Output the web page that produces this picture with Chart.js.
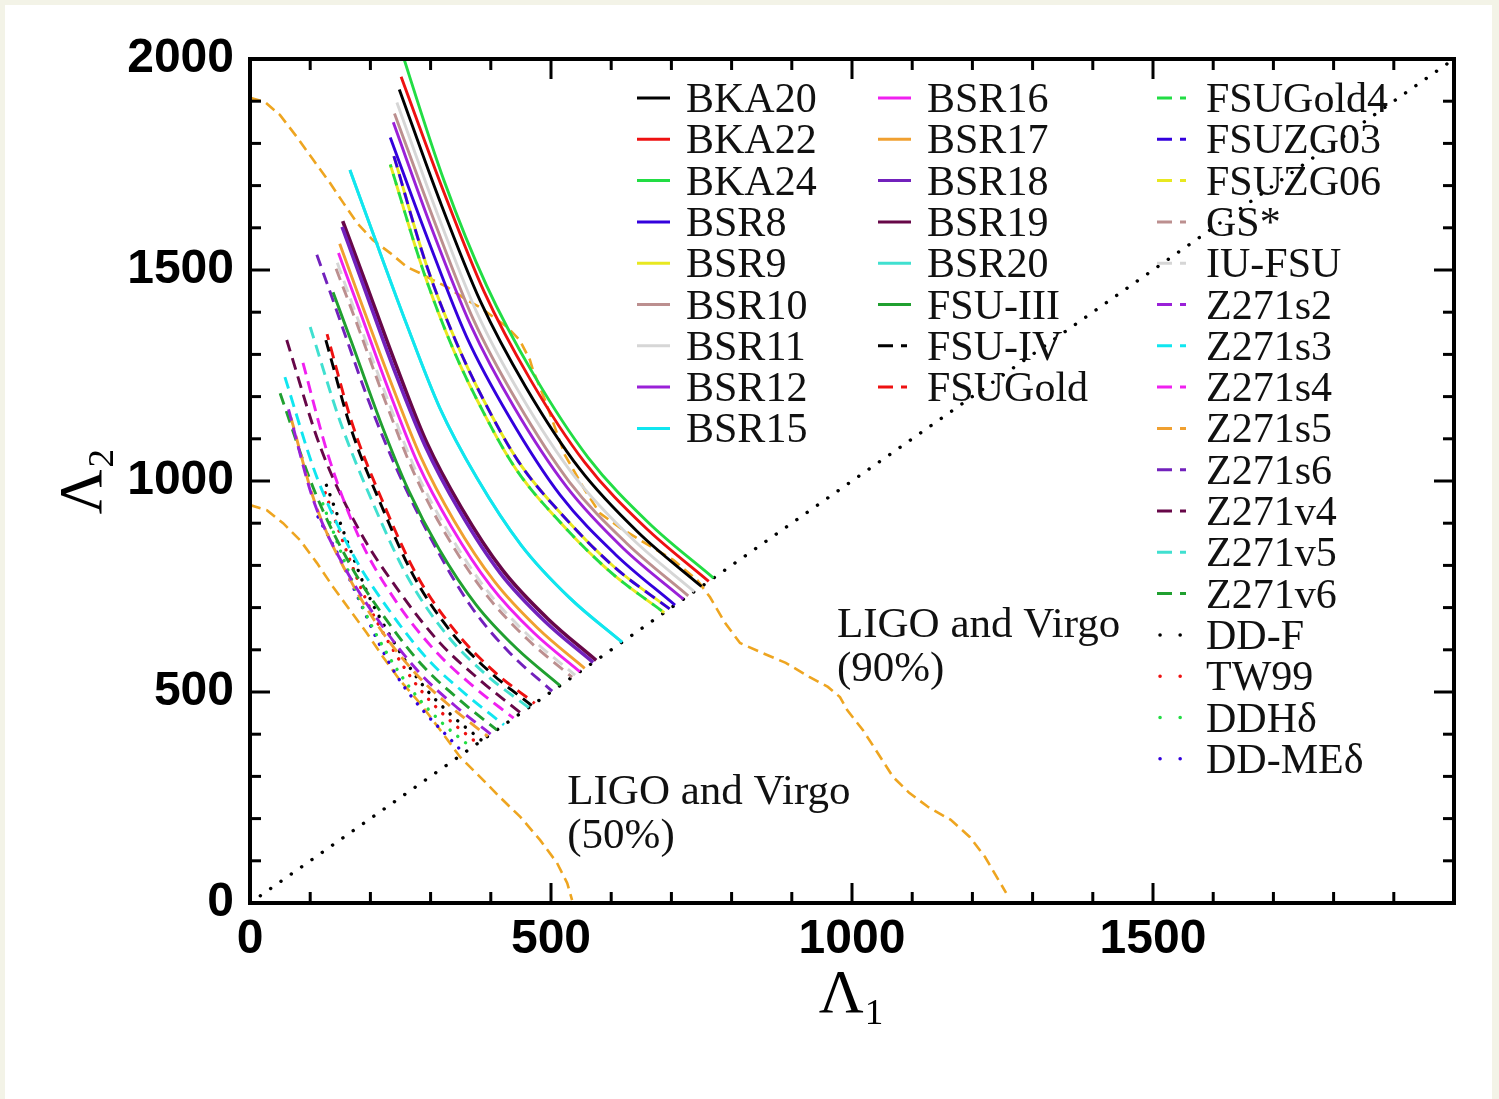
<!DOCTYPE html>
<html><head><meta charset="utf-8">
<script src="https://cdn.jsdelivr.net/npm/chart.js@4.4.1/dist/chart.umd.min.js"></script>
<style>
html,body{margin:0;padding:0;background:#f3f3e7;overflow:hidden;}
#wrap{position:absolute;left:0;top:0;width:1499px;height:1099px;}
#white{position:absolute;left:5px;top:5px;width:1487px;height:1094px;background:#fff;}
canvas{position:absolute;left:0;top:0;}
</style></head><body>
<div id="wrap"><div id="white"></div><canvas id="c" width="1499" height="1099"></canvas></div>
<script>
// ---- tick values / labels ----
const tickValues = [0,100,200,300,400,500,600,700,800,900,1000,1100,1200,1300,1400,1500,1600,1700,1800,1900,2000];
const xTickLabels = [0,500,1000,1500];
const yTickLabels = [0,500,1000,1500,2000];

// ---- series: [Lambda1, Lambda2] points ----
const BKA20 = [[248,1928],[315,1665],[383,1425],[458,1223],[548,1028],[645,878],[750,750]];
const BKA22 = [[251,1958],[320,1692],[389,1448],[465,1242],[556,1044],[655,892],[762,762]];
const BKA24 = [[240,2070],[323,1709],[393,1463],[470,1255],[562,1055],[662,901],[770,770]];
const BSR8  = [[233,1814],[297,1567],[360,1341],[431,1151],[515,967],[607,826],[706,706]];
const BSR9  = [[239,1770],[293,1512],[342,1331],[388,1192],[446,1046],[523,913],[606,795],[697,697]];
const BSR10 = [[240,1871],[306,1616],[371,1383],[444,1187],[531,997],[626,852],[728,728]];
const BSR11 = [[244,1897],[310,1638],[376,1402],[450,1203],[539,1011],[635,863],[738,738]];
const BSR12 = [[238,1850],[302,1598],[367,1368],[439,1174],[526,986],[619,842],[720,720]];
const BSR15 = [[166,1737],[204,1588],[260,1372],[315,1174],[377,1007],[451,847],[531,723],[618,618]];
const BSR16 = [[147,1540],[181,1408],[230,1217],[279,1041],[334,893],[400,751],[471,641],[548,548]];
const BSR17 = [[149,1562],[183,1429],[234,1234],[284,1056],[339,906],[406,762],[478,651],[556,556]];
const BSR18 = [[153,1602],[188,1465],[239,1265],[291,1083],[348,929],[416,781],[490,667],[570,570]];
const BSR19 = [[154,1616],[190,1478],[242,1277],[293,1093],[351,937],[420,788],[495,673],[575,575]];
const BSR20 = [[166,1737],[204,1588],[260,1372],[315,1174],[377,1007],[451,847],[531,723],[618,618]];
const FSU3  = [[138,1447],[170,1324],[216,1143],[263,979],[314,839],[376,706],[443,603],[515,515]];
const FSU4  = [[126,1334],[168,1123],[220,936],[271,777],[332,646],[398,548],[468,468]];
const FSUGold  = [[128,1348],[170,1135],[222,946],[274,785],[336,653],[402,553],[473,473]];
const FSUGold4 = [[233,1750],[289,1493],[337,1314],[383,1176],[440,1032],[516,901],[599,784],[688,688]];
const FSUZG03  = [[239,1770],[293,1512],[342,1331],[388,1192],[446,1046],[523,913],[606,795],[697,697]];
const FSUZG06  = [[233,1750],[289,1493],[337,1314],[383,1176],[440,1032],[516,901],[599,784],[688,688]];
const GSstar = [[143,1503],[177,1375],[225,1188],[273,1017],[326,872],[391,733],[460,626],[535,535]];
const IUFSU  = [[145,1517],[178,1388],[227,1199],[275,1026],[329,880],[394,740],[464,632],[540,540]];
const Z271s2 = [[64,1170],[104,960],[160,788],[220,656],[280,548],[340,468],[400,400]];
const Z271s3 = [[58,1246],[110,1013],[169,831],[232,692],[295,578],[359,494],[422,422]];
const Z271s4 = [[88,1280],[130,1060],[180,870],[240,720],[306,600],[372,512],[438,438]];
const Z271s5 = [[68,1150],[108,948],[162,778],[217,648],[277,541],[336,462],[395,395]];
const Z271s6 = [[111,1536],[135,1440],[162,1330],[197,1190],[240,1040],[300,865],[366,705],[432,592],[502,502]];
const Z271v4 = [[61,1334],[117,1080],[180,887],[248,738],[315,617],[383,527],[450,450]];
const Z271v5 = [[100,1365],[150,1140],[205,945],[262,772],[326,637],[393,540],[463,463]];
const Z271v6 = [[50,1208],[105,984],[164,808],[226,672],[287,562],[349,480],[410,410]];
const DDF    = [[127,990],[162,855],[196,732],[235,628],[281,527],[331,450],[385,385]];
const TW99   = [[125,972],[159,839],[193,718],[231,616],[276,518],[325,442],[378,378]];
const DDHd   = [[121,946],[155,817],[188,699],[224,600],[269,504],[316,431],[368,368]];
const DDMEd  = [[113,915],[150,815],[178,728],[216,610],[250,525],[290,452],[322,404],[355,355]];
// LIGO/Virgo contours and the equal-Lambda line
const LIGO90 = [[0,1908],[25,1898],[50,1867],[78,1815],[105,1761],[133,1706],[155,1659],[178,1611],[204,1571],[233,1540],[261,1507],[282,1493],[304,1476],[327,1460],[360,1429],[382,1412],[404,1389],[427,1365],[448,1334],[465,1287],[470,1263],[490,1192],[523,1062],[556,979],[581,924],[615,889],[648,860],[703,813],[743,765],[764,725],[789,664],[814,616],[852,592],[890,569],[929,536],[960,512],[980,488],[992,457],[1018,410],[1043,355],[1068,299],[1095,261],[1126,228],[1164,197],[1196,156],[1221,109],[1256,24]];
const LIGO50 = [[0,943],[28,931],[55,900],[83,860],[111,806],[138,749],[166,694],[194,640],[221,583],[249,528],[282,474],[316,410],[349,346],[382,299],[415,251],[449,204],[482,149],[510,95],[527,47],[535,7]];
const DIAG = [[0,0],[2000,2000]];

// ---- colours (xmgrace palette as it appears) ----
const C = {
  black:'#000000', red:'#ee1111', green:'#22dd44', blue:'#3300dd', yellow:'#e8e820',
  brown:'#bc8f8f', grey:'#d6d6d6', violet:'#9a20d8', cyan:'#10e6f0', magenta:'#f020f0',
  orange:'#f0a030', indigo:'#7221bc', maroon:'#670748', turquoise:'#40e0d0', green4:'#20a030',
  ligo:'#eea520'
};
const DASH = [12,7], DOT = [0.1,10];

function ds(label, pts, color, kind, extra){
  return Object.assign({
    label, data: pts.map(p=>({x:p[0], y:p[1]})),
    borderColor: color, backgroundColor: color,
    borderWidth: kind==='dot'?3.4:2.9,
    borderDash: kind==='dash'?DASH:(kind==='dot'?DOT:[]),
    borderCapStyle: kind==='dot'?'round':'butt',
    pointRadius:0, fill:false, cubicInterpolationMode:'monotone',
    kind
  }, extra||{});
}

const datasets = [
  ds('BKA20', BKA20, C.black, 'solid'),
  ds('BKA22', BKA22, C.red, 'solid'),
  ds('BKA24', BKA24, C.green, 'solid'),
  ds('BSR8', BSR8, C.blue, 'solid'),
  ds('BSR9', BSR9, C.yellow, 'solid', {order:2}),
  ds('BSR10', BSR10, C.brown, 'solid'),
  ds('BSR11', BSR11, C.grey, 'solid', {order:2}),
  ds('BSR12', BSR12, C.violet, 'solid'),
  ds('BSR15', BSR15, C.cyan, 'solid'),
  ds('BSR16', BSR16, C.magenta, 'solid'),
  ds('BSR17', BSR17, C.orange, 'solid'),
  ds('BSR18', BSR18, C.indigo, 'solid', {borderWidth:3.6}),
  ds('BSR19', BSR19, C.maroon, 'solid', {borderWidth:3.6, order:1}),
  ds('BSR20', BSR20, C.turquoise, 'solid', {order:1}),
  ds('FSU-III', FSU3, C.green4, 'solid'),
  ds('FSU-IV', FSU4, C.black, 'dash'),
  ds('FSUGold', FSUGold, C.red, 'dash', {borderDashOffset:6}),
  ds('FSUGold4', FSUGold4, C.green, 'dash', {borderDashOffset:9}),
  ds('FSUZG03', FSUZG03, C.blue, 'dash'),
  ds('FSUZG06', FSUZG06, C.yellow, 'dash', {order:1}),
  ds('GS*', GSstar, C.brown, 'dash'),
  ds('IU-FSU', IUFSU, C.grey, 'dash', {order:2}),
  ds('Z271s2', Z271s2, C.violet, 'dash'),
  ds('Z271s3', Z271s3, C.cyan, 'dash'),
  ds('Z271s4', Z271s4, C.magenta, 'dash'),
  ds('Z271s5', Z271s5, C.orange, 'dash'),
  ds('Z271s6', Z271s6, C.indigo, 'dash'),
  ds('Z271v4', Z271v4, C.maroon, 'dash'),
  ds('Z271v5', Z271v5, C.turquoise, 'dash'),
  ds('Z271v6', Z271v6, C.green4, 'dash'),
  ds('DD-F', DDF, C.black, 'dot'),
  ds('TW99', TW99, C.red, 'dot'),
  ds('DDH\u03b4', DDHd, C.green, 'dot'),
  ds('DD-ME\u03b4', DDMEd, C.blue, 'dot'),
  ds('LIGO 90%', LIGO90, C.ligo, 'dash', {cubicInterpolationMode:'default', tension:0, borderDash:[11,6], borderWidth:2.6, legendSkip:true, order:3}),
  ds('LIGO 50%', LIGO50, C.ligo, 'dash', {cubicInterpolationMode:'default', tension:0, borderDash:[11,6], borderWidth:2.6, legendSkip:true, order:3}),
  ds('diagonal', DIAG, C.black, 'dot', {cubicInterpolationMode:'default', tension:0, borderDash:[0.1,12.5], borderWidth:3.4, legendSkip:true, order:3})
];

const legendCols = [
  {lineX:637, textX:686, labels:['BKA20','BKA22','BKA24','BSR8','BSR9','BSR10','BSR11','BSR12','BSR15']},
  {lineX:878, textX:927, labels:['BSR16','BSR17','BSR18','BSR19','BSR20','FSU-III','FSU-IV','FSUGold']},
  {lineX:1157, textX:1206, labels:['FSUGold4','FSUZG03','FSUZG06','GS*','IU-FSU','Z271s2','Z271s3','Z271s4','Z271s5','Z271s6','Z271v4','Z271v5','Z271v6','DD-F','TW99','DDH\u03b4','DD-ME\u03b4']}
];
const annotations = [
  {x:975, y:630, lines:['LIGO and Virgo','(90%)']},
  {x:527, y:235, lines:['LIGO and Virgo','(50%)']}
];

const SERIF = "'Liberation Serif','Times New Roman',serif";

const framePlugin = {
  id:'frame',
  afterDatasetsDraw(chart){
    const {ctx, chartArea:a, scales:{x,y}} = chart;
    ctx.save();
    ctx.strokeStyle='#000'; ctx.lineCap='butt';
    ctx.lineWidth=3;
    const seg=(x1,y1,x2,y2)=>{ctx.beginPath();ctx.moveTo(x1,y1);ctx.lineTo(x2,y2);ctx.stroke();};
    x.ticks.forEach(t=>{const p=x.getPixelForValue(t.value); const L=t.value%500===0?20:11; seg(p,a.bottom,p,a.bottom-L); seg(p,a.top,p,a.top+L);});
    y.ticks.forEach(t=>{const p=y.getPixelForValue(t.value); const L=t.value%500===0?20:11; seg(a.left,p,a.left+L,p); seg(a.right,p,a.right-L,p);});
    ctx.lineWidth=4;
    ctx.strokeRect(a.left,a.top,a.right-a.left,a.bottom-a.top);
    ctx.restore();
  },
  afterDraw(chart){
    const {ctx, scales:{x,y}} = chart;
    ctx.save();
    ctx.font = "42px "+SERIF;
    ctx.fillStyle='#111'; ctx.textBaseline='alphabetic';
    legendCols.forEach(col=>{
      col.labels.forEach((lab,i)=>{
        const d = chart.data.datasets.find(s=>s.label===lab);
        const cy = 98 + i*41.3;
        ctx.strokeStyle=d.borderColor; ctx.lineWidth=3;
        if(d.kind==='dash'){ctx.setLineDash([15,8,6,100]); ctx.lineCap='butt';}
        else if(d.kind==='dot'){ctx.setLineDash([0.1,20]); ctx.lineCap='round'; ctx.lineWidth=3.5;}
        else {ctx.setLineDash([]); ctx.lineCap='butt';}
        ctx.beginPath(); ctx.moveTo(col.lineX + (d.kind==='dot'?3:0), cy); ctx.lineTo(col.lineX+33, cy); ctx.stroke();
        ctx.setLineDash([]);
        ctx.fillText(lab, col.textX, cy+14);
      });
    });
    ctx.font = "43px "+SERIF;
    annotations.forEach(an=>{
      const px = x.getPixelForValue(an.x), py = y.getPixelForValue(an.y);
      an.lines.forEach((t,i)=>ctx.fillText(t, px, py + i*44));
    });
    ctx.restore();
  }
};

const tickFont = {family:"'Liberation Sans',Arial,sans-serif", size:48, weight:'bold'};
new Chart(document.getElementById('c'), {
  type:'line',
  data:{datasets},
  options:{
    responsive:false, animation:false, devicePixelRatio:1,
    layout:{padding:{left:0, top:59, right:45, bottom:0}},
    plugins:{legend:{display:false}, tooltip:{enabled:false}},
    elements:{line:{tension:0}},
    scales:{
      x:{type:'linear', min:0, max:2000,
        afterBuildTicks:s=>{s.ticks=tickValues.map(v=>({value:v}));},
        afterFit:s=>{s.height=196;},
        ticks:{autoSkip:false, maxRotation:0, padding:0, color:'#000', font:tickFont,
          callback:v=>xTickLabels.includes(v)?String(v):''},
        grid:{display:false}, border:{display:false},
        title:{display:true, text:'\u039b\u2081', color:'#000', font:{family:SERIF, size:62}, padding:{top:0,bottom:66}}
      },
      y:{type:'linear', min:0, max:2000,
        afterBuildTicks:s=>{s.ticks=tickValues.map(v=>({value:v}));},
        afterFit:s=>{s.width=250;},
        ticks:{autoSkip:false, padding:8, color:'#000', font:tickFont,
          callback:v=>yTickLabels.includes(v)?String(v):''},
        grid:{display:false}, border:{display:false},
        title:{display:true, text:'\u039b\u2082', color:'#000', font:{family:SERIF, size:62}, padding:{top:48,bottom:0}}
      }
    }
  },
  plugins:[framePlugin]
});
</script></body></html>
